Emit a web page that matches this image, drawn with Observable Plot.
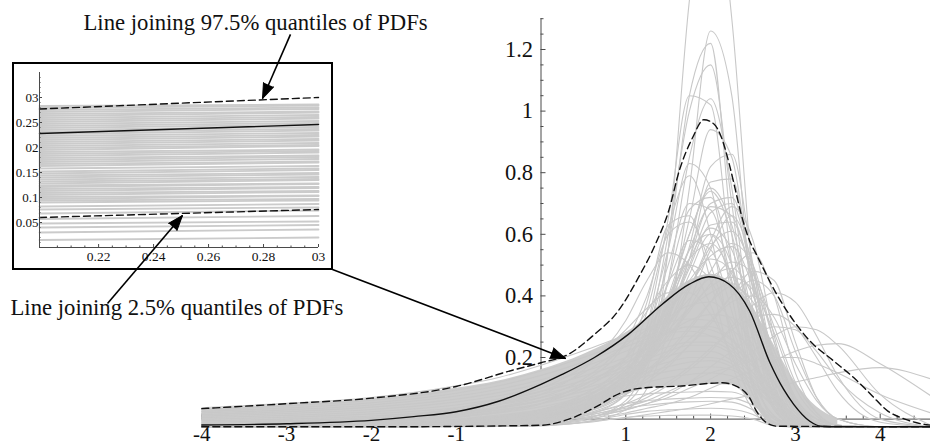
<!DOCTYPE html>
<html><head><meta charset="utf-8">
<script src="https://cdn.jsdelivr.net/npm/d3@7"></script>
<script src="https://cdn.jsdelivr.net/npm/@observablehq/plot@0.6"></script>
<style>
html,body{margin:0;padding:0;background:#fff;}
#wrap{position:relative;width:930px;height:445px;overflow:hidden;background:#fff;}
#inset{position:absolute;left:12px;top:62px;width:317px;height:204px;border:2px solid #000;z-index:1;}
#main{position:absolute;left:0;top:0;z-index:2;}
svg{font-family:"Liberation Serif","Times New Roman",serif;}
</style></head>
<body><div id="wrap"><div id="inset"></div><div id="main"></div></div>
<script>
const Z = -0.025;
// common x grid for the ensemble of PDF curves
const gridX = [-4,-3,-2,-1,-0.5,0,0.5,1,1.25,1.5,1.75,2,2.25,2.5,2.75,3,3.25,3.5,4,4.6];
// ensemble of individual PDFs (values at gridX)
const pdfCurves = [
 [Z,Z,Z,-0.024,-0.022,-0.018,-0.005,0.05,0.16,0.55,1.36,1.8,1.3,0.45,0.06,-0.02,Z,Z,Z,Z],
 [Z,Z,Z,-0.024,-0.022,-0.02,-0.01,0.03,0.1,0.3,0.75,1.26,1.05,0.35,0.04,-0.02,Z,Z,Z,Z],
 [Z,Z,Z,-0.023,-0.02,-0.015,0.0,0.06,0.2,0.55,1.05,1.22,0.6,0.12,-0.01,Z,Z,Z,Z,Z],
 [Z,Z,Z,-0.022,-0.018,-0.012,0.01,0.08,0.25,0.6,1.0,1.15,0.7,0.18,0.0,Z,Z,Z,Z,Z],
 [Z,Z,-0.024,-0.02,-0.015,-0.005,0.03,0.12,0.3,0.65,1.05,1.02,0.5,0.1,-0.015,Z,Z,Z,Z,Z],
 [Z,Z,Z,-0.022,-0.018,-0.01,0.02,0.1,0.22,0.45,0.85,1.04,0.75,0.25,0.03,-0.02,Z,Z,Z,Z],
 [Z,Z,-0.024,-0.02,-0.016,-0.008,0.015,0.08,0.18,0.36,0.65,0.94,0.85,0.42,0.09,-0.015,Z,Z,Z,Z],
 [Z,Z,-0.024,-0.019,-0.014,-0.005,0.02,0.1,0.2,0.35,0.56,0.82,0.86,0.5,0.12,-0.01,Z,Z,Z,Z],
 [Z,Z,-0.023,-0.017,-0.01,0.0,0.04,0.14,0.3,0.55,0.83,0.75,0.4,0.1,-0.01,Z,Z,Z,Z,Z],
 [Z,Z,-0.023,-0.016,-0.01,0.0,0.035,0.12,0.22,0.4,0.6,0.75,0.63,0.33,0.07,-0.02,Z,Z,Z,Z],
 [Z,Z,-0.022,-0.014,-0.006,0.01,0.05,0.16,0.35,0.62,0.79,0.6,0.25,0.05,-0.02,Z,Z,Z,Z,Z],
 [Z,Z,-0.023,-0.016,-0.01,0.0,0.03,0.1,0.19,0.33,0.52,0.7,0.72,0.48,0.16,0.01,Z,Z,Z,Z],
 [Z,-0.024,-0.02,-0.01,0.0,0.02,0.06,0.15,0.28,0.5,0.7,0.68,0.45,0.18,0.03,-0.02,Z,Z,Z,Z],
 [Z,-0.024,-0.019,-0.008,0.005,0.03,0.08,0.17,0.25,0.38,0.55,0.69,0.66,0.45,0.18,0.03,-0.02,Z,Z,Z],
 [-0.024,-0.02,-0.013,0.005,0.022,0.05,0.12,0.25,0.4,0.6,0.64,0.5,0.28,0.08,-0.015,Z,Z,Z,Z,Z],
 [Z,-0.024,-0.02,-0.01,0.0,0.02,0.06,0.14,0.2,0.3,0.42,0.56,0.61,0.48,0.25,0.07,0.0,-0.02,Z,Z],
 [-0.024,-0.02,-0.012,0.008,0.025,0.05,0.1,0.2,0.29,0.4,0.52,0.57,0.47,0.27,0.08,-0.015,Z,Z,Z,Z],
 [-0.022,-0.016,-0.005,0.025,0.05,0.08,0.16,0.32,0.45,0.54,0.5,0.37,0.2,0.06,-0.015,Z,Z,Z,Z,Z],
 [Z,-0.023,-0.018,-0.005,0.01,0.03,0.07,0.15,0.2,0.27,0.35,0.44,0.51,0.47,0.3,0.12,0.02,-0.02,Z,Z],
 [-0.023,-0.018,-0.008,0.02,0.04,0.07,0.13,0.25,0.35,0.45,0.5,0.45,0.3,0.12,0.01,-0.02,Z,Z,Z,Z],
 [-0.024,-0.019,-0.01,0.015,0.035,0.06,0.11,0.2,0.27,0.35,0.43,0.47,0.42,0.27,0.1,0.0,-0.022,Z,Z,Z],
 [-0.024,-0.02,-0.012,0.012,0.03,0.05,0.1,0.18,0.23,0.29,0.36,0.41,0.44,0.36,0.2,0.06,-0.01,Z,Z,Z],
 [-0.02,-0.013,0.0,0.035,0.065,0.1,0.17,0.29,0.36,0.41,0.41,0.34,0.21,0.08,-0.01,Z,Z,Z,Z,Z],
 [Z,-0.022,-0.016,0.0,0.013,0.03,0.06,0.12,0.16,0.2,0.26,0.32,0.38,0.4,0.33,0.18,0.06,0.0,Z,Z],
 [-0.021,-0.015,-0.003,0.03,0.058,0.09,0.15,0.24,0.29,0.33,0.37,0.38,0.32,0.2,0.07,-0.01,Z,Z,Z,Z],
 [-0.023,-0.018,-0.008,0.018,0.038,0.06,0.11,0.19,0.24,0.28,0.32,0.34,0.33,0.24,0.12,0.03,-0.02,Z,Z,Z],
 [Z,Z,-0.022,-0.014,-0.006,0.005,0.03,0.1,0.18,0.3,0.47,0.6,0.5,0.22,0.04,-0.02,Z,Z,Z,Z],
 [Z,Z,-0.023,-0.017,-0.012,-0.004,0.02,0.08,0.14,0.24,0.38,0.55,0.66,0.5,0.18,0.02,Z,Z,Z,Z],
 [Z,-0.024,-0.02,-0.01,0.0,0.015,0.045,0.1,0.15,0.21,0.29,0.38,0.48,0.54,0.4,0.15,0.02,-0.02,Z,Z],
 [Z,-0.023,-0.017,-0.003,0.01,0.03,0.08,0.2,0.38,0.63,0.66,0.45,0.18,0.03,-0.02,Z,Z,Z,Z,Z],
 [Z,Z,-0.023,-0.016,-0.01,0.0,0.03,0.1,0.2,0.38,0.6,0.74,0.6,0.28,0.06,-0.015,Z,Z,Z,Z],
 [Z,Z,-0.022,-0.014,-0.007,0.005,0.04,0.13,0.25,0.45,0.68,0.72,0.5,0.2,0.03,-0.02,Z,Z,Z,Z],
 [Z,-0.024,-0.02,-0.01,-0.002,0.012,0.05,0.13,0.21,0.33,0.49,0.63,0.64,0.45,0.18,0.03,-0.02,Z,Z,Z],
 [Z,-0.023,-0.018,-0.006,0.005,0.02,0.06,0.15,0.24,0.37,0.52,0.62,0.55,0.32,0.1,0.0,Z,Z,Z,Z],
 [Z,-0.024,-0.019,-0.008,0.003,0.02,0.06,0.14,0.21,0.31,0.43,0.53,0.56,0.43,0.2,0.05,-0.015,Z,Z,Z],
 [Z,Z,-0.022,-0.013,-0.005,0.008,0.04,0.12,0.22,0.37,0.55,0.6,0.44,0.2,0.04,-0.02,Z,Z,Z,Z],
 [Z,-0.024,-0.019,-0.007,0.005,0.022,0.065,0.16,0.24,0.34,0.45,0.52,0.48,0.3,0.1,0.0,Z,Z,Z,Z],
 [Z,-0.023,-0.017,-0.004,0.008,0.025,0.07,0.16,0.23,0.31,0.39,0.46,0.49,0.4,0.22,0.06,-0.01,Z,Z,Z],
 [Z,Z,-0.022,-0.014,-0.006,0.006,0.04,0.11,0.18,0.28,0.42,0.58,0.69,0.58,0.27,0.05,-0.02,Z,Z,Z],
 [Z,Z,-0.023,-0.016,-0.009,0.002,0.03,0.1,0.18,0.32,0.52,0.77,0.78,0.42,0.1,-0.01,Z,Z,Z,Z],
 [Z,-0.024,-0.02,-0.009,0.002,0.018,0.055,0.13,0.19,0.27,0.36,0.43,0.46,0.42,0.28,0.1,0.01,-0.02,Z,Z],
 [Z,Z,-0.022,-0.012,-0.004,0.01,0.045,0.14,0.26,0.44,0.58,0.55,0.35,0.12,0.01,Z,Z,Z,Z,Z],
 [Z,-0.024,-0.02,-0.01,0.0,0.015,0.05,0.12,0.18,0.26,0.36,0.48,0.57,0.5,0.25,0.06,-0.015,Z,Z,Z],
 [Z,Z,-0.023,-0.015,-0.008,0.003,0.035,0.11,0.2,0.34,0.5,0.67,0.7,0.45,0.14,0.0,Z,Z,Z,Z],
 [Z,-0.024,-0.02,-0.012,-0.004,0.008,0.035,0.09,0.13,0.18,0.24,0.31,0.4,0.48,0.45,0.25,0.07,0.0,Z,Z],
 [Z,-0.024,-0.02,-0.011,-0.002,0.012,0.045,0.11,0.16,0.22,0.3,0.38,0.43,0.38,0.22,0.07,0.0,-0.02,Z,Z],
 [0.037,0.051,0.07,0.108,0.135,0.175,0.222,0.272,0.295,0.315,0.325,0.32,0.29,0.22,0.12,0.04,0.0,-0.02,Z,Z],
 [0.031,0.043,0.061,0.094,0.12,0.156,0.2,0.25,0.27,0.29,0.3,0.29,0.255,0.18,0.09,0.02,-0.015,Z,Z,Z],
 [0.025,0.036,0.053,0.084,0.108,0.142,0.185,0.235,0.26,0.28,0.285,0.27,0.23,0.15,0.06,0.0,-0.02,Z,Z,Z],
 [0.02,0.03,0.046,0.075,0.097,0.128,0.17,0.22,0.25,0.28,0.3,0.3,0.26,0.18,0.08,0.01,-0.02,Z,Z,Z],
 [0.015,0.024,0.039,0.065,0.086,0.116,0.155,0.2,0.23,0.255,0.27,0.27,0.24,0.17,0.08,0.01,-0.02,Z,Z,Z],
 [0.01,0.018,0.031,0.056,0.076,0.102,0.14,0.185,0.21,0.235,0.25,0.25,0.22,0.15,0.07,0.005,-0.02,Z,Z,Z],
 [0.005,0.012,0.024,0.046,0.065,0.09,0.125,0.17,0.195,0.22,0.24,0.24,0.21,0.14,0.06,0.0,-0.022,Z,Z,Z],
 [0.0,0.006,0.017,0.037,0.055,0.08,0.115,0.16,0.185,0.205,0.22,0.22,0.19,0.13,0.05,-0.005,Z,Z,Z,Z],
 [-0.005,0.0,0.01,0.03,0.047,0.07,0.1,0.14,0.165,0.185,0.2,0.2,0.18,0.12,0.05,-0.01,Z,Z,Z,Z],
 [-0.01,-0.005,0.005,0.022,0.038,0.06,0.09,0.13,0.15,0.17,0.185,0.19,0.17,0.12,0.05,-0.01,Z,Z,Z,Z],
 [-0.015,-0.01,0.0,0.015,0.03,0.05,0.08,0.12,0.14,0.155,0.165,0.17,0.16,0.11,0.04,-0.01,Z,Z,Z,Z],
 [-0.02,-0.015,-0.007,0.008,0.02,0.04,0.07,0.1,0.12,0.135,0.145,0.15,0.14,0.1,0.04,-0.01,Z,Z,Z,Z],
 [Z,Z,-0.024,-0.022,-0.02,-0.014,0.01,0.05,0.06,0.065,0.068,0.07,0.068,0.045,0.0,Z,Z,Z,Z,Z],
 [Z,Z,Z,-0.024,-0.022,-0.018,0.0,0.035,0.045,0.052,0.056,0.058,0.055,0.03,-0.012,Z,Z,Z,Z,Z],
 [Z,Z,Z,Z,-0.024,-0.022,-0.01,0.015,0.025,0.03,0.033,0.035,0.032,0.015,-0.02,Z,Z,Z,Z,Z],
 [Z,Z,Z,-0.024,-0.023,-0.02,-0.012,0.005,0.01,0.012,0.013,0.013,0.01,0.0,-0.022,Z,Z,Z,Z,Z],
 [Z,Z,-0.023,-0.018,-0.012,0.0,0.04,0.075,0.082,0.086,0.088,0.09,0.088,0.06,0.005,-0.022,Z,Z,Z,Z],
 [Z,Z,-0.024,-0.02,-0.015,-0.008,0.01,0.04,0.07,0.11,0.16,0.22,0.3,0.37,0.41,0.38,0.27,0.14,0.0,Z],
 [Z,Z,-0.024,-0.02,-0.016,-0.01,0.005,0.03,0.05,0.07,0.1,0.13,0.17,0.22,0.27,0.3,0.29,0.24,0.08,-0.02],
 [Z,Z,Z,-0.024,-0.022,-0.02,-0.01,0.005,0.015,0.025,0.035,0.05,0.065,0.08,0.1,0.12,0.135,0.15,0.167,0.13],
 [Z,Z,Z,-0.023,-0.02,-0.015,0.0,0.02,0.035,0.05,0.07,0.1,0.13,0.16,0.19,0.22,0.24,0.245,0.18,0.075],
 [Z,Z,-0.024,-0.02,-0.015,-0.008,0.01,0.04,0.06,0.09,0.12,0.15,0.17,0.19,0.2,0.2,0.18,0.15,0.08,0.02],
 [Z,Z,-0.024,-0.021,-0.017,-0.01,0.005,0.03,0.05,0.08,0.12,0.17,0.22,0.27,0.3,0.29,0.22,0.13,0.02,Z],
 [Z,Z,-0.023,-0.018,-0.013,-0.005,0.015,0.05,0.08,0.12,0.17,0.23,0.29,0.33,0.34,0.3,0.2,0.09,-0.01,Z],
 [Z,-0.024,-0.02,-0.012,-0.005,0.005,0.03,0.08,0.12,0.17,0.24,0.32,0.4,0.45,0.4,0.22,0.07,0.0,Z,Z]
];
// dense core of the ensemble (lower and upper edge of the solid grey region)
const coreX  = [-4,-3,-2,-1,-0.5,0,0.5,1,1.25,1.5,1.75,2,2.25,2.5,2.75,3,3.25,3.5];
const coreLo = [Z,Z,Z,Z,Z,-0.022,0.015,0.08,0.098,0.104,0.108,0.112,0.11,0.05,-0.022,Z,Z,Z];
const coreHi = [0.033,0.047,0.065,0.1,0.124,0.16,0.21,0.28,0.33,0.4,0.45,0.47,0.44,0.36,0.24,0.12,0.04,0.0];
// line through the medians (solid)
const medX = [-4,-3,-2,-1.5,-1,-0.5,0,0.25,0.63,1.03,1.43,1.75,1.98,2.22,2.46,2.7,2.86,2.98,3.17,3.3,3.5,4.6];
const medY = [-0.019,-0.015,-0.004,0.008,0.024,0.058,0.113,0.145,0.2,0.275,0.373,0.438,0.462,0.438,0.351,0.183,0.097,0.048,-0.007,-0.023,-0.025,-0.025];
// line joining 97.5% quantiles
const upX = [-4,-3,-2,-1,-0.32,0,0.32,0.63,0.91,1.15,1.35,1.51,1.63,1.79,1.92,2.04,2.12,2.22,2.3,2.36,2.46,2.54,2.62,2.78,2.98,3.17,3.45,3.69,3.89,4.09,4.29,4.52,4.6];
const upY = [0.034,0.05,0.068,0.106,0.16,0.183,0.21,0.275,0.351,0.46,0.568,0.68,0.806,0.915,0.972,0.958,0.92,0.828,0.735,0.666,0.579,0.535,0.49,0.405,0.319,0.254,0.189,0.134,0.08,0.026,0.0,-0.017,-0.02];
// line joining 2.5% quantiles
const loX = [-4,-1.9,0,0.32,0.63,0.95,1.23,1.63,2.14,2.3,2.46,2.54,2.66,2.78,4.6];
const loY = [Z,Z,-0.02,-0.001,0.037,0.086,0.102,0.107,0.118,0.107,0.069,0.026,-0.012,-0.023,Z];
// axes ticks / labels
const xTicks = [-4,-3,-2,-1,1,2,3,4];
const xTickLabels = ["-4","-3","-2","-1","1","2","3","4"];
const yTicks = [0.2,0.4,0.6,0.8,1,1.2];
const yTickLabels = ["0.2","0.4","0.6","0.8","1","1.2"];
// inset (zoomed view)
const insetX = [0.1985, 0.3];
const insetGrayStart = [0.090,0.094,0.097,0.101,0.105,0.109,0.113,0.117,0.121,0.124,0.128,0.132,0.136,0.140,0.144,0.148,0.152,0.158,0.163,0.167,0.171,0.175,0.179,0.183,0.187,0.191,0.195,0.199,0.203,0.207,0.211,0.215,0.219,0.223,0.227,0.231,0.235,0.239,0.243,0.247,0.251,0.255,0.259,0.263,0.267,0.271,0.275,0.279,0.283,
  0.082,0.076,0.068,0.057,0.048,0.040,0.030,0.015];
const insetGrayEnd = [0.094,0.097,0.103,0.104,0.111,0.113,0.119,0.121,0.127,0.128,0.135,0.137,0.141,0.146,0.149,0.155,0.158,0.163,0.170,0.172,0.177,0.181,0.184,0.190,0.193,0.196,0.203,0.205,0.209,0.214,0.217,0.222,0.225,0.229,0.234,0.237,0.241,0.246,0.249,0.253,0.258,0.261,0.265,0.270,0.272,0.277,0.280,0.284,0.286,
  0.087,0.080,0.074,0.063,0.052,0.045,0.036,0.020];
const insetMed = [0.228, 0.246];
const insetUp = [0.277, 0.300];
const insetLo = [0.060, 0.076];
const insetXTicks = [0.22,0.24,0.26,0.28,0.3];
const insetXLabels = ["0.22","0.24","0.26","0.28","03"];
const insetYTicks = [0.05,0.1,0.15,0.2,0.25,0.3];
const insetYLabels = ["0.05","0.1","0.15","02","0.25","03"];
// annotations (main-plot coordinates)
const notes = [
  {x: -5.395, y: 1.287, text: "Line joining 97.5% quantiles of PDFs"},
  {x: -6.256, y: 0.360, text: "Line joining 2.5% quantiles of PDFs"}
];
const arrows = [
  {x1: -2.954, y1: 1.249, x2: -3.284, y2: 1.041},
  {x1: -5.112, y1: 0.375, x2: -4.228, y2: 0.661},
  {x1: -2.459, y1: 0.486, x2: 0.289, y2: 0.197}
];

// ---------- layout ----------
const W = 930, H = 445;
const xDom = [-540.5/84.8, (W-540.5)/84.8];
const yDom = [(418.6-H)/308, 418.6/308];
const kx = W/(xDom[1]-xDom[0]), ky = H/(yDom[1]-yDom[0]);
const sx = v => (v - xDom[0])*kx, sy = v => H - (v - yDom[0])*ky;
const FONT = "Liberation Serif";
const AX = "#4a4a4a";

const grayData = pdfCurves.flatMap((c,k) => c.map((v,i) => ({x: gridX[i], y: v, k})));
const coreData = coreX.map((x,i) => ({x, lo: coreLo[i], hi: coreHi[i]}));
const med = medX.map((x,i)=>({x, y: medY[i]}));
const up = upX.map((x,i)=>({x, y: upY[i]}));
const lo = loX.map((x,i)=>({x, y: loY[i]}));
const yMinor = d3.range(1, 27).map(i => i*0.05).filter(v => Math.abs(v*5 - Math.round(v*5)) > 1e-6);
const xMinor = d3.range(-20, 24).map(i => i*0.2).filter(v => Math.abs(v - Math.round(v)) > 1e-6);
arrows.forEach(a => { a.rot = Math.atan2(sx(a.x2)-sx(a.x1), -(sy(a.y2)-sy(a.y1)))*180/Math.PI; });

const main = Plot.plot({
  width: W, height: H, margin: 0,
  x: {domain: xDom, range: [0, W], axis: null},
  y: {domain: yDom, range: [H, 0], axis: null},
  style: {background: "transparent", fontFamily: FONT},
  marks: [
    Plot.ruleY([0], {x1: -4, x2: xDom[1], stroke: AX, strokeWidth: 1}),
    Plot.ruleX([0], {y1: 0, y2: 1.3, stroke: AX, strokeWidth: 1}),
    Plot.ruleY(yTicks, {x1: 0, x2: 5/kx, stroke: AX}),
    Plot.ruleY(yMinor, {x1: 0, x2: 3/kx, stroke: AX}),
    Plot.ruleX(xTicks, {y1: 0, y2: 5/ky, stroke: AX}),
    Plot.ruleX(xMinor, {y1: 0, y2: 3/ky, stroke: AX}),
    Plot.areaY(coreData, {x: "x", y1: "lo", y2: "hi", fill: "#cccccc", curve: "monotone-x", clip: true}),
    Plot.line(grayData, {x: "x", y: "y", z: "k", stroke: "#c8c8c8", strokeWidth: 1.1, curve: "monotone-x", clip: true}),
    Plot.line(up, {x: "x", y: "y", stroke: "#111", strokeWidth: 1.4, strokeDasharray: "7,4", curve: "monotone-x", clip: true}),
    Plot.line(lo, {x: "x", y: "y", stroke: "#111", strokeWidth: 1.4, strokeDasharray: "7,4", curve: "monotone-x", clip: true}),
    Plot.line(med, {x: "x", y: "y", stroke: "#111", strokeWidth: 1.4, curve: "monotone-x", clip: true}),
    Plot.text(yTicks, {x: 0, y: d => d, text: (d,i) => yTickLabels[i], dx: -8, textAnchor: "end", fontSize: 22.5, fontFamily: FONT, fill: "#111"}),
    Plot.text(xTicks, {x: d => d, y: 0, text: (d,i) => xTickLabels[i], dy: 15, fontSize: 21, fontFamily: FONT, fill: "#111"}),
    Plot.text(notes, {x: "x", y: "y", text: "text", textAnchor: "start", fontSize: 22.7, fontFamily: FONT, fill: "#111"}),
    Plot.link(arrows, {x1: "x1", y1: "y1", x2: "x2", y2: "y2", stroke: "#000", strokeWidth: 1.6}),
    Plot.vector(arrows, {x: "x2", y: "y2", rotate: "rot", length: 15, r: 5.5, shape: "spike", anchor: "end", fill: "#000", stroke: "#000", strokeWidth: 1})
  ]
});
document.getElementById("main").appendChild(main);

// ---------- inset ----------
const iw = 317, ih = 204;
const iML = 25, iMR = 13, iMT = 8, iMB = 21;
const ikx = (iw - iML - iMR)/(insetX[1]-insetX[0]);
const iky = (ih - iMT - iMB)/0.35;
const insetGray = insetGrayStart.flatMap((s,k) => [{x: insetX[0], y: s, k}, {x: insetX[1], y: insetGrayEnd[k], k}]);
const two = arr => [{x: insetX[0], y: arr[0]}, {x: insetX[1], y: arr[1]}];
const iyMinor = d3.range(1, 36).map(i => i*0.01).filter(v => Math.abs(v*20 - Math.round(v*20)) > 1e-6);
const ixMinor = d3.range(40, 61).map(i => i*0.005).filter(v => Math.abs(v*50 - Math.round(v*50)) > 1e-6);

const inset = Plot.plot({
  width: iw, height: ih, marginLeft: iML, marginRight: iMR, marginTop: iMT, marginBottom: iMB,
  x: {domain: insetX, axis: null},
  y: {domain: [0, 0.35], axis: null},
  style: {background: "transparent", fontFamily: FONT},
  marks: [
    Plot.line(insetGray, {x: "x", y: "y", z: "k", stroke: "#cbcbcb", strokeWidth: 1.8}),
    Plot.line(two(insetUp), {x: "x", y: "y", stroke: "#111", strokeWidth: 1.4, strokeDasharray: "7,4"}),
    Plot.line(two(insetLo), {x: "x", y: "y", stroke: "#111", strokeWidth: 1.4, strokeDasharray: "7,4"}),
    Plot.line(two(insetMed), {x: "x", y: "y", stroke: "#111", strokeWidth: 1.4}),
    Plot.ruleY([0], {x1: insetX[0], x2: insetX[1], stroke: AX}),
    Plot.ruleX([insetX[0]], {y1: 0, y2: 0.35, stroke: AX}),
    Plot.ruleY(insetYTicks, {x1: insetX[0], x2: insetX[0] + 3/ikx, stroke: AX}),
    Plot.ruleY(iyMinor, {x1: insetX[0], x2: insetX[0] + 1.5/ikx, stroke: AX}),
    Plot.ruleX(insetXTicks, {y1: 0, y2: 3/iky, stroke: AX}),
    Plot.ruleX(ixMinor, {y1: 0, y2: 1.5/iky, stroke: AX}),
    Plot.text(insetYTicks, {x: insetX[0], y: d => d, text: (d,i) => insetYLabels[i], dx: -1, textAnchor: "end", fontSize: 13, fontFamily: FONT, fill: "#111"}),
    Plot.text(insetXTicks, {x: d => d, y: 0, text: (d,i) => insetXLabels[i], dy: 9, fontSize: 13.5, fontFamily: FONT, fill: "#111"})
  ]
});
document.getElementById("inset").appendChild(inset);
</script></body></html>
